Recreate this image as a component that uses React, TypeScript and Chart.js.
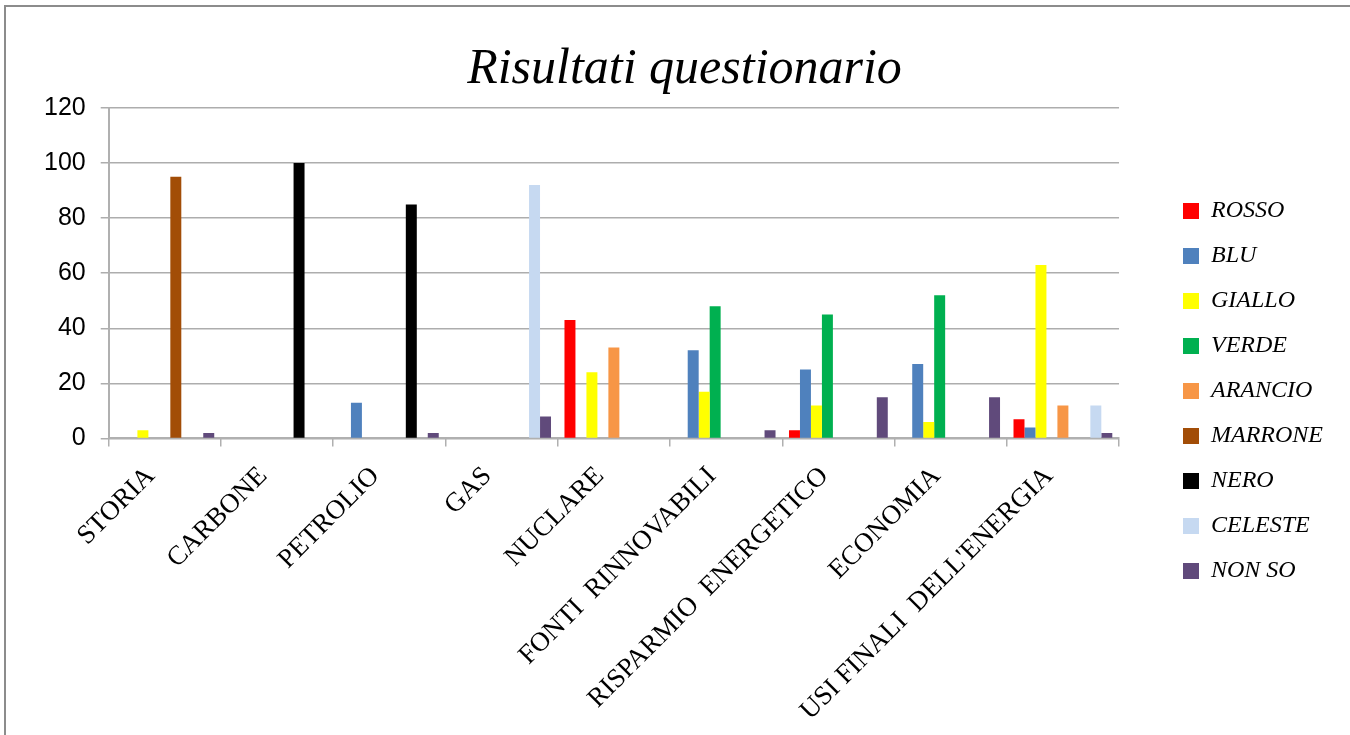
import React, { useEffect, useRef } from "react";
import { Chart, registerables } from "chart.js";

Chart.register(...registerables);

const categories = [
  "STORIA",
  "CARBONE",
  "PETROLIO",
  "GAS",
  "NUCLARE",
  "FONTI  RINNOVABILI",
  "RISPARMIO  ENERGETICO",
  "ECONOMIA",
  "USI FINALI  DELL'ENERGIA",
];

const seriesNames = ["ROSSO", "BLU", "GIALLO", "VERDE", "ARANCIO", "MARRONE", "NERO", "CELESTE", "NON SO"];

const rosso = [0, 0, 0, 0, 43, 0, 3, 0, 7];
const blu = [0, 0, 13, 0, 0, 32, 25, 27, 4];
const giallo = [3, 0, 0, 0, 24, 17, 12, 6, 63];
const verde = [0, 0, 0, 0, 0, 48, 45, 52, 0];
const arancio = [0, 0, 0, 0, 33, 0, 0, 0, 12];
const marrone = [95, 0, 0, 0, 0, 0, 0, 0, 0];
const nero = [0, 100, 85, 0, 0, 0, 0, 0, 0];
const celeste = [0, 0, 0, 92, 0, 0, 0, 0, 12];
const nonSo = [2, 0, 2, 8, 0, 3, 15, 15, 2];

const seriesValues = [rosso, blu, giallo, verde, arancio, marrone, nero, celeste, nonSo];
const seriesColors = ["#FF0000", "#4F81BD", "#FFFF00", "#00B050", "#F79646", "#A24D07", "#000000", "#C6D9F1", "#604A7B"];

const yTicks = [0, 20, 40, 60, 80, 100, 120];

const LEGEND_LEFT = 1162;
const LEGEND_TOP = 178;
const TITLE_SHIFT = 25;

export default function App() {
  const ref = useRef<HTMLCanvasElement>(null);

  useEffect(() => {
    if (!ref.current) return;
    const placer = {
      id: "placer",
      afterLayout(chart: any) {
        const lg = chart.legend;
        if (lg) {
          const w = lg.width;
          const h = lg.height;
          lg.left = LEGEND_LEFT;
          lg.right = LEGEND_LEFT + w;
          lg.top = LEGEND_TOP;
          lg.bottom = LEGEND_TOP + h;
        }
        const tb = chart.titleBlock;
        if (tb) {
          tb.left += TITLE_SHIFT;
          tb.right += TITLE_SHIFT;
        }
      },
    };

    const chart = new Chart(ref.current, {
      type: "bar",
      data: {
        labels: categories,
        datasets: seriesNames.map((name, i) => ({
          label: name,
          data: seriesValues[i],
          backgroundColor: seriesColors[i],
          borderWidth: 0,
          categoryPercentage: 0.88,
          barPercentage: 1,
        })),
      },
      options: {
        animation: false,
        responsive: false,
        devicePixelRatio: 1,
        layout: { padding: { left: 29, right: 60, top: 0, bottom: -6 } },
        plugins: {
          title: {
            display: true,
            text: "Risultati questionario",
            color: "#000",
            font: { family: "'Liberation Serif', serif", size: 50, style: "italic", weight: "normal", lineHeight: 1.2 },
            padding: { top: 40, bottom: 8 },
          },
          legend: {
            position: "right",
            align: "start",
            labels: {
              boxWidth: 16,
              boxHeight: 16,
              padding: 21,
              color: "#000",
              font: { family: "'Liberation Serif', serif", size: 24, style: "italic" },
            },
          },
          tooltip: { enabled: false },
        },
        scales: {
          x: {
            grid: {
              display: true,
              drawOnChartArea: false,
              drawTicks: true,
              tickLength: 8,
              color: "#B0B0B0",
              lineWidth: 1.5,
            },
            border: { display: true, color: "#B0B0B0", width: 2 },
            ticks: {
              autoSkip: false,
              minRotation: 45,
              maxRotation: 45,
              color: "#000",
              padding: 14,
              labelOffset: -14,
              font: { family: "'Liberation Serif', serif", size: 27 },
            },
          },
          y: {
            min: 0,
            max: 120,
            afterBuildTicks: (scale: any) => {
              scale.ticks = yTicks.map((v) => ({ value: v }));
            },
            grid: {
              color: "#ADADAD",
              lineWidth: 1.5,
              tickLength: 8,
            },
            border: { display: true, color: "#B0B0B0", width: 2 },
            ticks: {
              color: "#000",
              padding: 15,
              font: { family: "'Liberation Sans', sans-serif", size: 25 },
            },
          },
        },
      },
      plugins: [placer],
    });
    return () => chart.destroy();
  }, []);

  return (
    <div style={{ position: "fixed", left: 0, top: 0, width: 1350, height: 735, background: "#fff" }}>
      <canvas ref={ref} width={1350} height={735} style={{ position: "absolute", left: 0, top: 0 }} />
      <div
        style={{
          position: "absolute",
          left: 4,
          top: 5,
          right: 0,
          bottom: 0,
          borderTop: "2px solid #8C8C8C",
          borderLeft: "2px solid #8C8C8C",
          pointerEvents: "none",
        }}
      />
    </div>
  );
}
